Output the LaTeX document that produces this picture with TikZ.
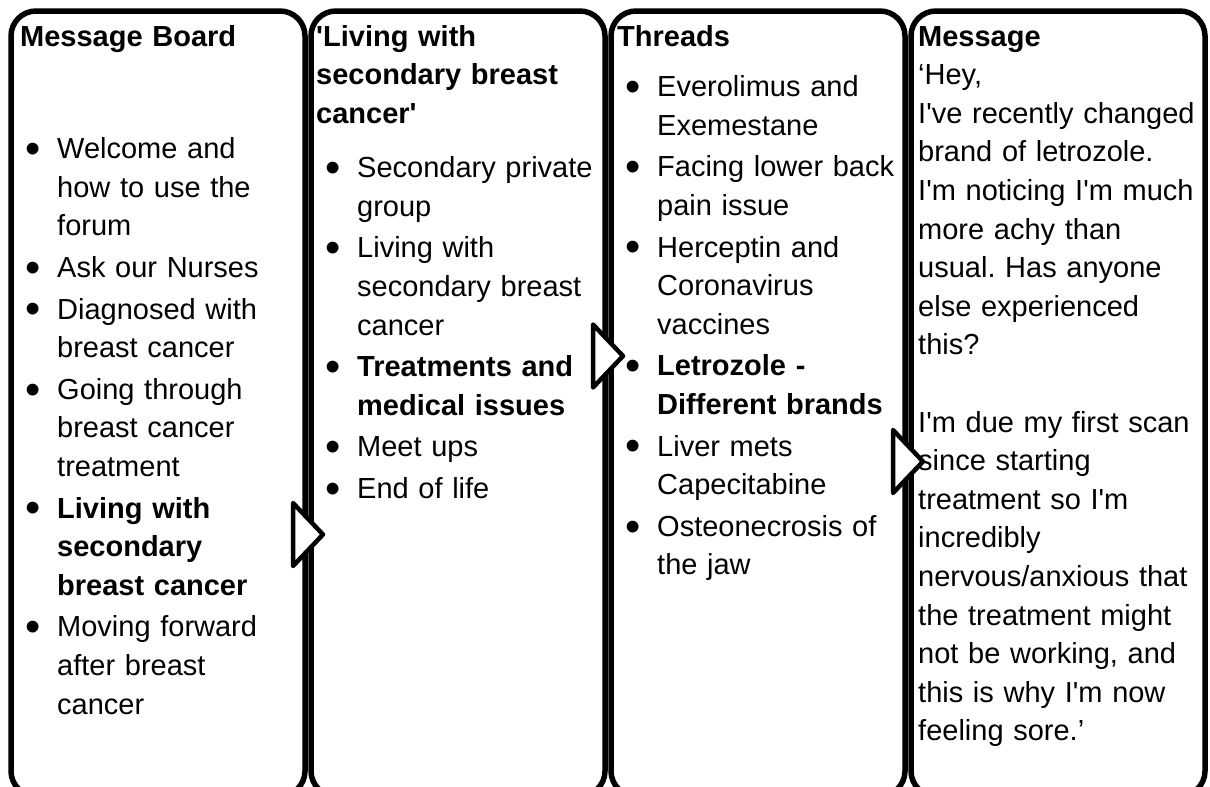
\documentclass[tikz,border=0pt]{standalone}
\usepackage{fontspec}
\setmainfont{Liberation Sans}[Ligatures=TeXOff]
\usetikzlibrary{positioning}

% bullet list used inside the panels
\newcommand{\bigdot}{\makebox[10pt][c]{\raisebox{-4.8pt}{\fontsize{43.5}{43.5}\selectfont\textbullet}}}
\newenvironment{dotlist}{\begin{list}{\bigdot}{%
  \setlength{\leftmargin}{29pt}\setlength{\labelwidth}{10pt}%
  \setlength{\labelsep}{19pt}\setlength{\itemindent}{0pt}%
  \setlength{\itemsep}{3pt}\setlength{\parsep}{0pt}%
  \setlength{\topsep}{0pt}\setlength{\partopsep}{0pt}}}{\end{list}}

\begin{document}
\frenchspacing
\begin{tikzpicture}[
  x=1pt, y=-1pt, node distance=6pt,
  panel/.style={rectangle, rounded corners=25pt, draw=black, line width=5.5pt, outer sep=0pt, minimum width=294pt, minimum height=785pt},
  txt/.style={inner sep=0pt, anchor=base west, align=left, text width=285pt, font=\fontsize{29}{38.6}\selectfont},
  ttl/.style={txt, font=\fontsize{29}{38.6}\selectfont\bfseries},
  tri/.style={draw=black, fill=white, line width=4.5pt, line join=round}
]
\useasboundingbox (0,0) rectangle (1210,787);
\clip (0,0) rectangle (1210,787);

% the four panels
\node[panel, anchor=north west] (b1) at (11,11) {};
\node[panel, right=of b1] (b2) {};
\node[panel, right=of b2] (b3) {};
\node[panel, right=of b3] (b4) {};

% titles
\node[ttl] (t1) at (20,46) {Message Board};
\node[ttl] (t2) at (316,46) {'Living with\\secondary breast\\cancer'};
\node[ttl] (t3) at (617,46) {Threads};
\node[ttl] (t4) at (918,46) {Message};

% lists (base sits one line above the first item)
\node[txt] (l1) at (28,120) {\begin{dotlist}
  \item Welcome and\\how to use the\\forum
  \item Ask our Nurses
  \item Diagnosed with\\breast cancer
  \item Going through\\breast cancer\\treatment
  \item \textbf{Living with\\secondary\\breast cancer}
  \item Moving forward\\after breast\\cancer
\end{dotlist}};
\node[txt] (l2) at (328,139) {\begin{dotlist}
  \item Secondary private\\group
  \item Living with\\secondary breast\\cancer
  \item \textbf{Treatments and\\medical issues}
  \item Meet ups
  \item End of life
\end{dotlist}};
\node[txt] (l3) at (628,58) {\begin{dotlist}
  \item Everolimus and\\Exemestane
  \item Facing lower back\\pain issue
  \item Herceptin and\\Coronavirus\\vaccines
  \item \textbf{Letrozole -\\Different brands}
  \item Liver mets\\Capecitabine
  \item Osteonecrosis of\\the jaw
\end{dotlist}};
\node[txt] (m4) at (918,84.6) {‘Hey,\\I've recently changed\\brand of letrozole.\\I'm noticing I'm much\\more achy than\\usual. Has anyone\\else experienced\\this?\\[38.6pt]I'm due my first scan\\since starting\\treatment so I'm\\incredibly\\nervous/anxious that\\the treatment might\\not be working, and\\this is why I'm now\\feeling sore.’};

% markers between the panels
\foreach \x/\y in {308/534.5, 608/356, 908/461.5}
  \draw[tri] ({\x-15},{\y-31.5}) -- ({\x+15},\y) -- ({\x-15},{\y+31.5}) -- cycle;
\end{tikzpicture}
\end{document}
